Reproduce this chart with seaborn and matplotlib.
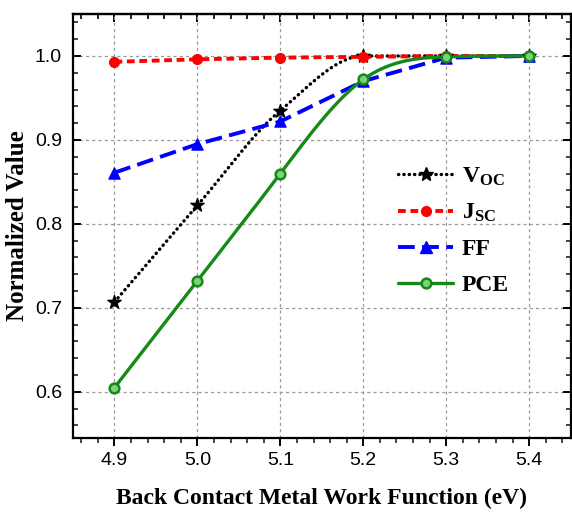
import numpy as np
import pandas as pd
import seaborn as sns
import matplotlib
matplotlib.use("Agg")
import matplotlib.pyplot as plt
from matplotlib.lines import Line2D
from matplotlib.ticker import MultipleLocator

# ---- data ----
work_function = [4.9, 5.0, 5.1, 5.2, 5.3, 5.4]
voc = [0.707, 0.822, 0.935, 1.000, 1.000, 1.000]
jsc = [0.993, 0.996, 0.998, 0.999, 1.000, 1.000]
ff = [0.861, 0.895, 0.922, 0.970, 0.998, 1.000]
pce = [0.605, 0.732, 0.860, 0.972, 0.999, 1.000]

x_ticks = [4.9, 5.0, 5.1, 5.2, 5.3, 5.4]
y_ticks = [0.6, 0.7, 0.8, 0.9, 1.0]


def natural_spline(x, y, n=300):
    x = np.asarray(x, float)
    y = np.asarray(y, float)
    m = len(x)
    h = np.diff(x)
    A = np.zeros((m, m))
    b = np.zeros(m)
    A[0, 0] = A[-1, -1] = 1
    for i in range(1, m - 1):
        A[i, i - 1] = h[i - 1]
        A[i, i] = 2 * (h[i - 1] + h[i])
        A[i, i + 1] = h[i]
        b[i] = 6 * ((y[i + 1] - y[i]) / h[i] - (y[i] - y[i - 1]) / h[i - 1])
    M = np.linalg.solve(A, b)
    xs = np.linspace(x[0], x[-1], n)
    ys = np.empty_like(xs)
    for k, xv in enumerate(xs):
        i = min(np.searchsorted(x, xv, side="right") - 1, m - 2)
        t1 = x[i + 1] - xv
        t0 = xv - x[i]
        ys[k] = (M[i] * t1 ** 3 / (6 * h[i]) + M[i + 1] * t0 ** 3 / (6 * h[i])
                 + (y[i] / h[i] - M[i] * h[i] / 6) * t1
                 + (y[i + 1] / h[i] - M[i + 1] * h[i] / 6) * t0)
    return xs, ys


def pchip(x, y, n=300):
    x = np.asarray(x, float)
    y = np.asarray(y, float)
    h = np.diff(x)
    d = np.diff(y) / h
    m = len(x)
    s = np.zeros(m)
    for i in range(1, m - 1):
        if d[i - 1] * d[i] > 0:
            w1 = 2 * h[i] + h[i - 1]
            w2 = h[i] + 2 * h[i - 1]
            s[i] = (w1 + w2) / (w1 / d[i - 1] + w2 / d[i])
    s[0] = d[0]
    s[-1] = d[-1]
    xs = np.linspace(x[0], x[-1], n)
    ys = np.empty_like(xs)
    for k, xv in enumerate(xs):
        i = min(np.searchsorted(x, xv, side="right") - 1, m - 2)
        t = (xv - x[i]) / h[i]
        h00 = 2 * t ** 3 - 3 * t ** 2 + 1
        h10 = t ** 3 - 2 * t ** 2 + t
        h01 = -2 * t ** 3 + 3 * t ** 2
        h11 = t ** 3 - t ** 2
        ys[k] = h00 * y[i] + h10 * h[i] * s[i] + h01 * y[i + 1] + h11 * h[i] * s[i + 1]
    return xs, ys


sns.set_theme(style="white")
plt.rcParams["font.family"] = ["Liberation Sans", "DejaVu Sans"]
plt.rcParams["mathtext.fontset"] = "custom"
plt.rcParams["mathtext.rm"] = "Liberation Serif"
plt.rcParams["mathtext.bf"] = "Liberation Serif:bold"
plt.rcParams["mathtext.it"] = "Liberation Serif:italic"
plt.rcParams["xtick.bottom"] = True
plt.rcParams["ytick.left"] = True
plt.rcParams["text.color"] = "black"
plt.rcParams["axes.labelcolor"] = "black"

SERIF = ["Liberation Serif", "DejaVu Serif"]

fig = plt.figure(figsize=(5.72, 5.12), dpi=100)
ax = fig.add_axes([0.1276, 0.1445, 0.870, 0.8282])

GREEN = "#168a16"
series = [
    ("voc", voc, "black", (0, (0.1, 1.5)), 2.4, "*", 10, "black", "black", "pchip", r"$\mathbf{V_{OC}}$"),
    ("jsc", jsc, "#ff0000", (0, (2.0, 1.2)), 2.8, "o", 7, "#ff0000", "#ff0000", None, r"$\mathbf{J_{SC}}$"),
    ("ff", ff, "#0000ff", (0, (4.3, 1.9)), 2.8, "^", 8, "#0000ff", "#0000ff", None, "FF"),
    ("pce", pce, GREEN, "-", 2.4, "o", 7, "#7fcf7f", GREEN, "spline", "PCE"),
]

handles = []
for name, vals, col, ls, lw, mk, ms, mfc, mec, smooth, lab in series:
    if smooth == "spline":
        xs, ys = natural_spline(work_function, vals)
    elif smooth == "pchip":
        xs, ys = pchip(work_function, vals)
    else:
        xs, ys = np.array(work_function), np.array(vals)
    sns.lineplot(x=xs, y=ys, ax=ax, color=col, linewidth=lw,
                 sort=False, estimator=None, zorder=3)
    ln = ax.lines[-1]
    ln.set_linestyle(ls)
    ln.set_dash_capstyle("round" if name == "voc" else "butt")
    sns.scatterplot(x=work_function, y=vals, ax=ax, marker=mk, s=ms ** 2,
                    color=mfc, edgecolor=mec, linewidth=1.8 if name == "pce" else 1.0,
                    zorder=4)
    h = Line2D([0], [0], color=col, linestyle=ls, linewidth=lw, marker=mk,
               markersize=ms, markerfacecolor=mfc, markeredgecolor=mec,
               markeredgewidth=1.8 if name == "pce" else 1.0)
    if name == "voc":
        h.set_dash_capstyle("round")
    handles.append((h, lab))

ax.set_xlim(4.85, 5.45)
ax.set_ylim(0.545, 1.05)
ax.set_xticks(x_ticks)
ax.set_yticks(y_ticks)
ax.set_xticklabels([f"{v:.1f}" for v in x_ticks])
ax.set_yticklabels([f"{v:.1f}" for v in y_ticks])
ax.xaxis.set_minor_locator(MultipleLocator(0.02))
ax.yaxis.set_minor_locator(MultipleLocator(0.02))

ax.grid(True, which="major", color="#9a9a9a", linestyle=(0, (2.5, 2.5)), linewidth=0.9)
for s in ax.spines.values():
    s.set_color("black")
    s.set_linewidth(1.6)

ax.tick_params(axis="x", which="major", direction="out", length=6, width=1.4,
               labelsize=14, colors="black", pad=4, bottom=True, top=False)
ax.tick_params(axis="x", which="minor", direction="out", length=3.5, width=1.2,
               bottom=True, top=False)
ax.tick_params(axis="y", which="major", direction="in", length=6, width=1.4,
               labelsize=14, colors="black", pad=8, left=True, right=True)
ax.tick_params(axis="y", which="minor", direction="in", length=3.5, width=1.2,
               left=True, right=True)

# top axis: inward ticks, no labels
sec = ax.secondary_xaxis("top")
sec.set_xticks(x_ticks)
sec.xaxis.set_minor_locator(MultipleLocator(0.02))
sec.tick_params(axis="x", which="major", direction="in", length=6, width=1.4,
                top=True, labeltop=False, colors="black")
sec.tick_params(axis="x", which="minor", direction="in", length=3.5, width=1.2,
                top=True, colors="black")
sec.spines["top"].set_linewidth(1.6)

ax.set_xlabel("Back Contact Metal Work Function (eV)", fontsize=17, fontweight="bold",
              family=SERIF, labelpad=14, color="black")
ax.set_ylabel("Normalized Value", fontsize=18, fontweight="bold",
              family=SERIF, labelpad=4, color="black")

leg = ax.legend([h for h, _ in handles], [l for _, l in handles],
                loc="upper left", bbox_to_anchor=(0.63, 0.67), frameon=False,
                borderpad=0, handlelength=2.33, handletextpad=0.35, labelspacing=0.6,
                prop={"family": SERIF, "weight": "bold", "size": 17})
for t in leg.get_texts():
    t.set_color("black")

fig.savefig("out.png", dpi=100)
